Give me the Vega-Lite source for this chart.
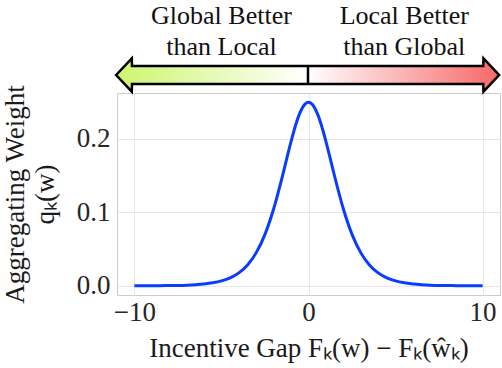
{
  "$schema": "https://vega.github.io/schema/vega-lite/v6.json",
  "width": 383,
  "height": 202,
  "autosize": {"type": "none"},
  "padding": {"left": 117, "top": 93, "right": 2, "bottom": 73},
  "background": "white",
  "config": {
    "view": {"stroke": "#cccccc", "strokeWidth": 1},
    "font": "Liberation Serif",
    "axis": {
      "labelFont": "Liberation Serif",
      "titleFont": "Liberation Serif",
      "labelFontSize": 27,
      "titleFontSize": 27,
      "labelColor": "#262626",
      "titleColor": "#1a1a1a",
      "titleFontWeight": "normal",
      "ticks": false,
      "tickSize": 0,
      "domain": false,
      "gridColor": "#e6e6e6",
      "gridWidth": 1
    }
  },
  "datasets": {
    "curve": [
      {"x": -10, "q": 0.0000454}, {"x": -9.5, "q": 0.0000748}, {"x": -9, "q": 0.000123},
      {"x": -8.5, "q": 0.000203}, {"x": -8, "q": 0.000335}, {"x": -7.5, "q": 0.000552},
      {"x": -7, "q": 0.00091}, {"x": -6.5, "q": 0.0015}, {"x": -6, "q": 0.00247},
      {"x": -5.5, "q": 0.00405}, {"x": -5, "q": 0.00665}, {"x": -4.5, "q": 0.01087},
      {"x": -4, "q": 0.01766}, {"x": -3.5, "q": 0.02845}, {"x": -3, "q": 0.04518},
      {"x": -2.5, "q": 0.0701}, {"x": -2, "q": 0.10499}, {"x": -1.5, "q": 0.14915},
      {"x": -1.25, "q": 0.17311}, {"x": -1, "q": 0.19661}, {"x": -0.75, "q": 0.21789},
      {"x": -0.5, "q": 0.235}, {"x": -0.25, "q": 0.24612}, {"x": 0, "q": 0.25},
      {"x": 0.25, "q": 0.24612}, {"x": 0.5, "q": 0.235}, {"x": 0.75, "q": 0.21789},
      {"x": 1, "q": 0.19661}, {"x": 1.25, "q": 0.17311}, {"x": 1.5, "q": 0.14915},
      {"x": 2, "q": 0.10499}, {"x": 2.5, "q": 0.0701}, {"x": 3, "q": 0.04518},
      {"x": 3.5, "q": 0.02845}, {"x": 4, "q": 0.01766}, {"x": 4.5, "q": 0.01087},
      {"x": 5, "q": 0.00665}, {"x": 5.5, "q": 0.00405}, {"x": 6, "q": 0.00247},
      {"x": 6.5, "q": 0.0015}, {"x": 7, "q": 0.00091}, {"x": 7.5, "q": 0.000552},
      {"x": 8, "q": 0.000335}, {"x": 8.5, "q": 0.000203}, {"x": 9, "q": 0.000123},
      {"x": 9.5, "q": 0.0000748}, {"x": 10, "q": 0.0000454}
    ],
    "arrow": [
      {"x": -11.05, "top": 0.287, "bottom": 0.287},
      {"x": -10.15, "top": 0.3097, "bottom": 0.2643},
      {"x": -10.14, "top": 0.2993, "bottom": 0.2747},
      {"x": 10.04, "top": 0.2993, "bottom": 0.2747},
      {"x": 10.05, "top": 0.3097, "bottom": 0.2643},
      {"x": 10.95, "top": 0.287, "bottom": 0.287}
    ],
    "tick": [{"x": -0.03, "y": 0.2747, "y2": 0.2993}],
    "labels": [
      {"x": -5, "y": 0.3564, "label": "Global Better"},
      {"x": -5, "y": 0.3142, "label": "than Local"},
      {"x": 5.5, "y": 0.3564, "label": "Local Better"},
      {"x": 5.5, "y": 0.3142, "label": "than Global"}
    ]
  },
  "layer": [
    {
      "data": {"name": "curve"},
      "mark": {"type": "line", "interpolate": "monotone", "color": "#0a3cff", "strokeWidth": 3, "clip": false},
      "encoding": {
        "x": {
          "field": "x", "type": "quantitative",
          "scale": {"domain": [-11, 11], "nice": false, "zero": false},
          "axis": {"values": [-10, 0, 10], "title": "Incentive Gap Fₖ(w) − Fₖ(ŵₖ)", "labelPadding": 4, "titlePadding": 10, "grid": true}
        },
        "y": {
          "field": "q", "type": "quantitative",
          "scale": {"domain": [-0.0125, 0.2625], "nice": false, "zero": false},
          "axis": {"values": [0, 0.1, 0.2], "format": ".1f", "title": ["Aggregating Weight", "qₖ(w)"], "labelPadding": 7, "titlePadding": 17, "titleLineHeight": 30, "grid": true}
        }
      }
    },
    {
      "data": {"name": "arrow"},
      "mark": {
        "type": "area", "clip": false, "stroke": "black", "strokeWidth": 2.5, "strokeJoin": "miter",
        "fill": {
          "gradient": "linear", "x1": 0, "x2": 1, "y1": 0, "y2": 0,
          "stops": [
            {"offset": 0, "color": "#cdf56e"},
            {"offset": 0.5, "color": "#ffffff"},
            {"offset": 1, "color": "#f86868"}
          ]
        }
      },
      "encoding": {
        "x": {"field": "x", "type": "quantitative"},
        "y": {"field": "top", "type": "quantitative"},
        "y2": {"field": "bottom"}
      }
    },
    {
      "data": {"name": "tick"},
      "mark": {"type": "rule", "clip": false, "color": "black", "strokeWidth": 2.5},
      "encoding": {
        "x": {"field": "x", "type": "quantitative"},
        "y": {"field": "y", "type": "quantitative"},
        "y2": {"field": "y2"}
      }
    },
    {
      "data": {"name": "labels"},
      "mark": {"type": "text", "clip": false, "font": "Liberation Serif", "fontSize": 26, "color": "#111111", "baseline": "alphabetic", "align": "center"},
      "encoding": {
        "x": {"field": "x", "type": "quantitative"},
        "y": {"field": "y", "type": "quantitative"},
        "text": {"field": "label"}
      }
    }
  ]
}
